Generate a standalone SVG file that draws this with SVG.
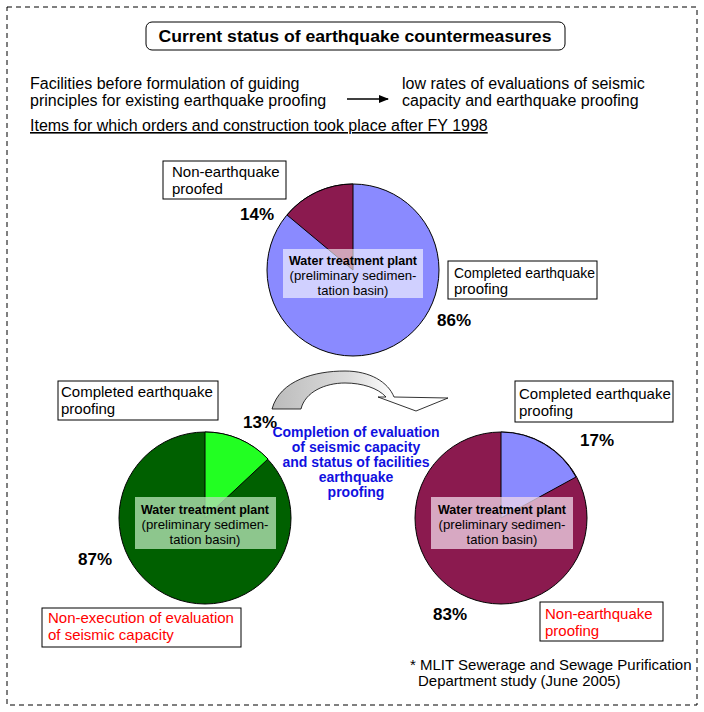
<svg xmlns="http://www.w3.org/2000/svg" width="704" height="712" viewBox="0 0 704 712">
<style>
text{font-family:"Liberation Sans",Arial,sans-serif;font-size:15px;fill:#000}
.i{font-size:16px}
.b{font-weight:bold}
.pct{font-weight:bold;font-size:17px}
.box{fill:#fff;stroke:#000;stroke-width:1}
.red{fill:#f00}
.blue{fill:#1010e0;font-weight:bold;font-size:14px}
.lbl{fill:#fff;fill-opacity:0.6}
.pl{font-size:13px}
.c{text-anchor:middle}
</style>
<defs>
<marker id="ah" markerWidth="10" markerHeight="10" refX="9" refY="5" orient="auto" markerUnits="userSpaceOnUse"><path d="M0,1 L10,5 L0,9 Z" fill="#000"/></marker>
<linearGradient id="gr" x1="0" y1="0" x2="1" y2="0"><stop offset="0" stop-color="#bbb"/><stop offset="0.45" stop-color="#ddd"/><stop offset="0.7" stop-color="#fff"/></linearGradient>
</defs>
<rect x="7" y="7" width="690" height="698" fill="#fff" stroke="#000" stroke-dasharray="5,4"/>
<g id="title"><rect x="146" y="22" width="419" height="28" rx="6" class="box" stroke-width="1.5"/><text x="355" y="42" class="c b" style="font-size:17px" textLength="393" lengthAdjust="spacingAndGlyphs">Current status of earthquake countermeasures</text></g>
<g id="intro">
<text x="30" y="89" class="i">Facilities before formulation of guiding</text>
<text x="30" y="106" class="i">principles for existing earthquake proofing</text>
<text x="402" y="89" class="i">low rates of evaluations of seismic</text>
<text x="402" y="106" class="i">capacity and earthquake proofing</text>
<text x="30" y="131" class="i" text-decoration="underline">Items for which orders and construction took place after FY 1998</text>
</g>
<g id="connectors">
<line x1="347" y1="99" x2="388" y2="99" stroke="#000" stroke-width="1.5" marker-end="url(#ah)"/>
<path d="M272,409 C280,380 315,371 345,371 C370,371 388,382 394,397 L448,398 L416,411 L378,397 L386,397 C378,388 362,383 345,383 C325,383 305,392 301,409 Z" fill="url(#gr)" stroke="#000" stroke-width="0.8"/>
</g>
<g id="pie-top">
<circle cx="353" cy="270" r="86" fill="#8a8aff" stroke="#000"/>
<path d="M353,270 L353,184 A86,86 0 0 0 287,215 Z" fill="#8b1a4f" stroke="#000"/>
<rect x="283" y="249" width="140" height="49" class="lbl"/>
<text x="353" y="265" class="c b pl" textLength="128" lengthAdjust="spacingAndGlyphs">Water treatment plant</text>
<text x="353" y="280" class="c pl" textLength="127" lengthAdjust="spacingAndGlyphs">(preliminary sedimen-</text>
<text x="353" y="295" class="c pl">tation basin)</text>
<rect x="163" y="161" width="123" height="38" class="box"/>
<text x="172" y="177">Non-earthquake</text><text x="172" y="194">proofed</text>
<text x="240" y="220" class="pct">14%</text>
<rect x="448" y="261" width="149" height="38" class="box"/>
<text x="454" y="278" textLength="141" lengthAdjust="spacingAndGlyphs">Completed earthquake</text><text x="454" y="294">proofing</text>
<text x="437" y="326" class="pct">86%</text>
</g>
<g id="pie-left">
<circle cx="205" cy="518" r="86" fill="#006000" stroke="#000"/>
<path d="M205,518 L205,432 A86,86 0 0 1 268,459 Z" fill="#22ff22" stroke="#000"/>
<rect x="135" y="497" width="141" height="52" fill="#b0e0b0" fill-opacity="0.8"/>
<text x="205" y="514" class="c b pl" textLength="128" lengthAdjust="spacingAndGlyphs">Water treatment plant</text>
<text x="205" y="529" class="c pl" textLength="127" lengthAdjust="spacingAndGlyphs">(preliminary sedimen-</text>
<text x="205" y="544" class="c pl">tation basin)</text>
<rect x="58" y="381" width="160" height="39" class="box"/>
<text x="61" y="397">Completed earthquake</text><text x="61" y="414">proofing</text>
<text x="243" y="428" class="pct">13%</text>
<text x="78" y="565" class="pct">87%</text>
<rect x="42" y="608" width="199" height="39" class="box"/>
<text x="48" y="623" class="red">Non-execution of evaluation</text><text x="48" y="640" class="red">of seismic capacity</text>
</g>
<g id="center-text">
<text x="356" y="437" class="c blue">Completion of evaluation</text>
<text x="356" y="452" class="c blue">of seismic capacity</text>
<text x="356" y="467" class="c blue">and status of facilities</text>
<text x="356" y="482" class="c blue">earthquake</text>
<text x="356" y="497" class="c blue">proofing</text>
</g>
<g id="pie-right">
<circle cx="501" cy="518" r="86" fill="#8b1a4f" stroke="#000"/>
<path d="M501,518 L501,432 A86,86 0 0 1 576,477 Z" fill="#8a8aff" stroke="#000"/>
<rect x="431" y="497" width="142" height="52" fill="#f0d8e8" fill-opacity="0.75"/>
<text x="502" y="514" class="c b pl" textLength="128" lengthAdjust="spacingAndGlyphs">Water treatment plant</text>
<text x="502" y="529" class="c pl" textLength="127" lengthAdjust="spacingAndGlyphs">(preliminary sedimen-</text>
<text x="502" y="544" class="c pl">tation basin)</text>
<rect x="515" y="381" width="158" height="41" class="box"/>
<text x="519" y="399">Completed earthquake</text><text x="519" y="416">proofing</text>
<text x="580" y="446" class="pct">17%</text>
<text x="433" y="620" class="pct">83%</text>
<rect x="540" y="602" width="123" height="39" class="box"/>
<text x="545" y="619" class="red">Non-earthquake</text><text x="545" y="636" class="red">proofing</text>
</g>
<g id="footnote">
<text x="410" y="670">* MLIT Sewerage and Sewage Purification</text>
<text x="418" y="686">Department study (June 2005)</text>
</g>
</svg>
